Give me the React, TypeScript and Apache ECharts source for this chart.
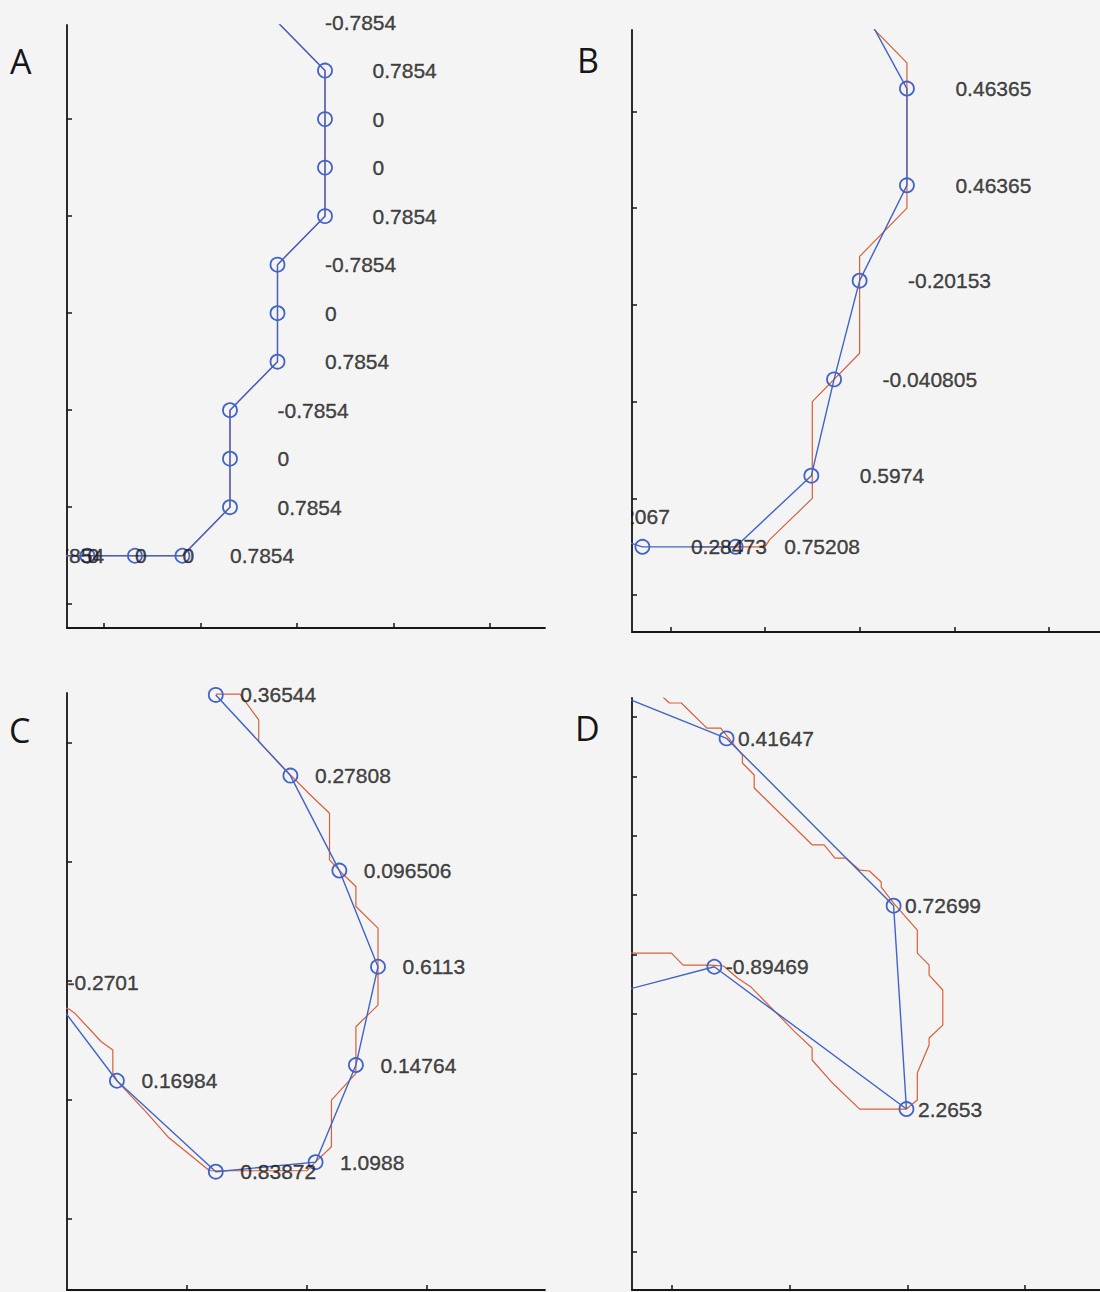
import React, { useEffect, useRef } from 'react';
import * as echarts from 'echarts';

// ---------- Panel A (chain units) ----------
const aBlueX = [-2, -1, 0, 1, 2, 3, 3, 3, 4, 4, 4, 5, 5, 5, 5, 4];
const aBlueY = [0, 0, 0, 0, 0, 1, 2, 3, 4, 5, 6, 7, 8, 9, 10, 11];
const aLabels = ['0.7854', '0', '0', '0', '0.7854', '0.7854', '0', '-0.7854', '0.7854', '0', '-0.7854', '0.7854', '0', '0', '0.7854', '-0.7854'];
const aRedX = [-2, -1, 0, 1, 2, 3, 3, 3, 4, 4, 4, 5, 5, 5, 5, 4];
const aRedY = [0, 0, 0, 0, 0, 1, 2, 3, 4, 5, 6, 7, 8, 9, 10, 11];
const aXTicks = [0.35, 2.38, 4.41, 6.44, 8.47];
const aYTicks = [-1, 1, 3, 5, 7, 9];

// ---------- Panel B ----------
const bBlueX = [4.7, 6, 6, 5, 4.46, 3.98, 2.38, 0.41, -1.64];
const bBlueY = [11.8, 9.47, 7.47, 5.5, 3.46, 1.47, 0, 0, 0.63];
const bLabels = ['', '0.46365', '0.46365', '-0.20153', '-0.040805', '0.5974', '0.75208', '0.28473', '0.12067'];
const bRedX = [5, 6, 6, 5, 5, 4, 4, 3.1, 3, 1.5];
const bRedY = [11, 10, 7, 6, 4, 3, 1, 0.15, 0, 0];
const bXTicks = [1, 3, 5, 7, 9];
const bYTicks = [-1, 1, 3, 5, 7, 9];

// ---------- Panel C ----------
const cBlueX = [6.2, 9.31, 11.35, 12.96, 12.04, 10.36, 6.2, 2.08, -1.0];
const cBlueY = [25.0, 21.61, 17.62, 13.58, 9.45, 5.37, 4.97, 8.79, 12.9];
const cLabels = ['0.36544', '0.27808', '0.096506', '0.6113', '0.14764', '1.0988', '0.83872', '0.16984', '-0.2701'];
const cRedX = [6.2, 7.21, 7.99, 7.99, 9.31, 10.07, 10.94, 10.94, 11.46, 12.04, 12.04, 12.96, 12.96, 12.04, 12.04, 11.02, 11.02, 10.36, 10.0, 5.94, 4.21, 3.33, 2.12, 1.91, 1.91, 1.43, 0.33, 0.11, -1.1];
const cRedY = [25.03, 25.03, 23.95, 23.04, 21.64, 20.87, 20.03, 18.07, 17.51, 16.95, 16.11, 15.2, 11.97, 11.06, 9.1, 7.98, 6.02, 5.38, 5.01, 5.01, 6.43, 7.44, 8.74, 9.12, 10.08, 10.43, 11.62, 11.79, 12.18];
const cXTicks = [5, 10, 15];
const cYTicks = [3, 8, 13, 18, 23];

// ---------- Panel D ----------
const dBlueX = [2.48, 14.68, 28.84, 29.93, 13.64, 2.48];
const dBlueY = [53.07, 48.2, 34.12, 17.0, 28.98, 26.07];
const dLabels = ['', '0.41647', '0.72699', '2.2653', '-0.89469', ''];
const dRedX = [8.58, 9.82, 10.84, 13.01, 14.18, 16.02, 16.02, 17.02, 17.02, 21.95, 22.95, 23.87, 24.78, 25.96, 26.79, 27.79, 27.79, 28.84, 30.85, 30.85, 31.85, 31.85, 33.01, 33.01, 31.85, 31.85, 30.85, 30.85, 29.93, 25.96, 23.66, 21.93, 21.93, 20.49, 16.75, 15.6, 14.43, 13.3, 11.0, 10.0, 6.74, 3.98];
const dRedY = [52.36, 51.18, 51.18, 49.07, 49.07, 46.8, 46.13, 45.12, 44.02, 39.23, 39.23, 38.13, 38.13, 37.12, 37.04, 36.11, 35.69, 34.34, 32.07, 30.13, 29.12, 28.28, 27.02, 24.07, 22.98, 22.39, 20.03, 17.76, 17.0, 17.0, 19.19, 21.13, 22.14, 23.48, 27.27, 28.03, 29.04, 29.12, 29.12, 30.13, 30.13, 30.13];
const dXTicks = [10, 20, 30, 40];
const dYTicks = [5, 10, 15, 20, 25, 30, 35, 40, 45, 50];

const panelLetters = ['A', 'B', 'C', 'D'];

const BG = '#f4f4f4';
const BLUE = '#4263c8';
const RED = '#d8603a';
const AX = '#161616';
const TXT = '#161616';
const FONT = 'Liberation Sans';

const zip = (xs: number[], ys: number[]) => xs.map((x, i) => [x, ys[i]]);

function ax(gi: number, min: number, max: number, ticks: number[]) {
  return {
    type: 'value', gridIndex: gi, min, max,
    axisLine: { show: true, onZero: false, lineStyle: { color: AX, width: 1.8 } },
    axisTick: { show: true, inside: true, length: 5, customValues: ticks, lineStyle: { color: AX, width: 1.5 } },
    axisLabel: { show: false },
    splitLine: { show: false },
  };
}

function panelSeries(gi: number, bx: number[], by: number[], labels: string[], rx: number[], ry: number[], dist: number) {
  return [
    {
      type: 'line', xAxisIndex: gi, yAxisIndex: gi, data: zip(rx, ry),
      symbol: 'none', showSymbol: false, clip: true, z: 2,
      lineStyle: { color: RED, width: 1.2 },
    },
    {
      type: 'line', xAxisIndex: gi, yAxisIndex: gi, data: zip(bx, by),
      symbol: 'circle', symbolSize: 14, showSymbol: true, clip: true, z: 3,
      itemStyle: { color: 'rgba(0,0,0,0)', borderColor: BLUE, borderWidth: 1.8 },
      lineStyle: { color: BLUE, width: 1.4 },
    },
    {
      type: 'scatter', xAxisIndex: gi, yAxisIndex: gi, data: zip(bx, by),
      symbol: 'circle', symbolSize: 1, clip: false, z: 4,
      itemStyle: { color: 'rgba(0,0,0,0)' },
      label: {
        show: true, position: 'right', distance: dist,
        formatter: (p: any) => labels[p.dataIndex],
        fontSize: 21, fontFamily: FONT, color: TXT,
        textBorderColor: TXT, textBorderWidth: 0.4,
      },
    },
  ];
}

export default function App() {
  const ref = useRef<HTMLDivElement>(null);
  useEffect(() => {
    if (!ref.current) return;
    document.body.style.margin = '0';
    const chart = echarts.init(ref.current, null, { renderer: 'svg' });
    const letterFont = '34px "Open Sans", sans-serif';
    const option: any = {
      backgroundColor: BG,
      animation: false,
      grid: [
        { left: 67, top: 25, width: 478, height: 603 },
        { left: 632, top: 30, width: 475, height: 602 },
        { left: 67, top: 693, width: 478, height: 597 },
        { left: 632, top: 698, width: 475, height: 592 },
      ],
      xAxis: [
        ax(0, -0.43, 9.63, aXTicks),
        ax(1, 0.19, 10.08, bXTicks),
        ax(2, 0, 19.92, cXTicks),
        ax(3, 6.66, 46.34, dXTicks),
      ],
      yAxis: [
        ax(0, -1.49, 10.94, aYTicks),
        ax(1, -1.76, 10.68, bYTicks),
        ax(2, 0, 25.08, cYTicks),
        ax(3, 1.77, 51.6, dYTicks),
      ],
      series: [
        ...panelSeries(0, aBlueX, aBlueY, aLabels, aRedX, aRedY, 47),
        ...panelSeries(1, bBlueX, bBlueY, bLabels, bRedX, bRedY, 48),
        ...panelSeries(2, cBlueX, cBlueY, cLabels, cRedX, cRedY, 24),
        ...panelSeries(3, dBlueX, dBlueY, dLabels, dRedX, dRedY, 11),
      ],
      graphic: {
        elements: [
          { type: 'rect', z: 100, shape: { x: 0, y: 0, width: 66, height: 645 }, style: { fill: BG } },
          { type: 'rect', z: 100, shape: { x: 0, y: 645, width: 66, height: 647 }, style: { fill: BG } },
          { type: 'rect', z: 100, shape: { x: 548, y: 0, width: 83, height: 645 }, style: { fill: BG } },
          { type: 'rect', z: 100, shape: { x: 548, y: 645, width: 83, height: 647 }, style: { fill: BG } },
          { type: 'text', z: 101, style: { text: panelLetters[0], x: 10, y: 61, textVerticalAlign: 'middle', font: letterFont, fill: '#161616' } },
          { type: 'text', z: 101, style: { text: panelLetters[1], x: 577, y: 60, textVerticalAlign: 'middle', font: letterFont, fill: '#161616' } },
          { type: 'text', z: 101, style: { text: panelLetters[2], x: 9, y: 730, textVerticalAlign: 'middle', font: letterFont, fill: '#161616' } },
          { type: 'text', z: 101, style: { text: panelLetters[3], x: 575, y: 728, textVerticalAlign: 'middle', font: letterFont, fill: '#161616' } },
        ],
      },
    };
    chart.setOption(option);
    return () => chart.dispose();
  }, []);
  return <div ref={ref} style={{ position: 'absolute', left: 0, top: 0, width: 1100, height: 1292 }} />;
}
